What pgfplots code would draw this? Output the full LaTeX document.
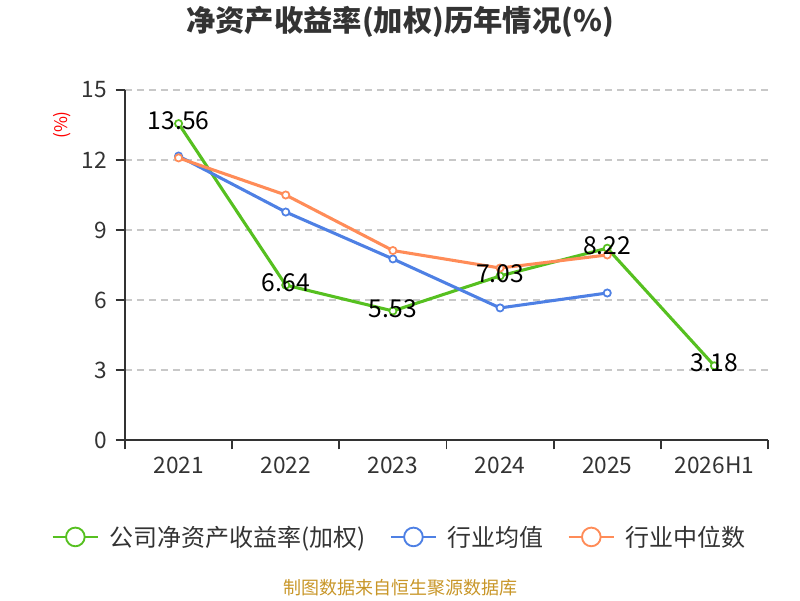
\documentclass[border=0pt]{standalone}
\usepackage{pgfplots}
\pgfplotsset{compat=1.18}
\usepackage{fontspec}
\setmainfont{Noto Sans CJK SC}
\definecolor{cgreen}{RGB}{86,192,32}
\definecolor{cblue}{RGB}{78,128,228}
\definecolor{corange}{RGB}{255,140,88}
\definecolor{ctext}{RGB}{51,51,51}
\definecolor{cgrid}{RGB}{200,200,200}
\definecolor{csrc}{RGB}{200,150,40}
\begin{document}
\begin{tikzpicture}
\path (-93.75pt,-120pt) rectangle (506.25pt,330pt);
\begin{axis}[
  scale only axis,
  width=482.25pt, height=262.5pt,
  xmin=-0.5, xmax=5.5, ymin=0, ymax=15,
  axis x line*=bottom, axis y line*=left,
  axis line style={ctext, line width=1.3pt},
  xtick={0,1,2,3,4,5},
  xticklabels={2021,2022,2023,2024,2025,2026H1},
  minor xtick={-0.5,0.5,1.5,2.5,3.5,4.5,5.5},
  ytick={0,3,6,9,12,15},
  tick align=outside,
  major x tick style={draw=none},
  minor x tick style={ctext, line width=1.3pt},
  minor tick length=7pt,
  major tick length=7pt,
  major y tick style={ctext, line width=1.3pt},
  ymajorgrids,
  grid style={cgrid, dashed, line width=1pt, dash pattern=on 5pt off 4pt},
  /pgf/number format/assume math mode=true,
  tick label style={font=\fontsize{17}{18}\selectfont, text=ctext},
  xticklabel style={yshift=-2.5pt},
  yticklabel style={xshift=-3pt},
  clip=false,
  every axis plot/.append style={line width=2.3pt},
  legend columns=3,
  legend style={at={(axis description cs:0.4277,-0.277)}, anchor=center, draw=none, fill=none,
    font=\fontsize{18}{19}\selectfont, text=ctext, column sep=6pt,
    /tikz/every even column/.append style={column sep=16pt}},
  legend image code/.code={
    \draw[#1, line width=1.4pt] (0pt,0pt) -- (34pt,0pt);
    \draw[#1, line width=1.4pt, fill=white] (17pt,0pt) circle (7pt);
  },
]
\addplot[cgreen, mark=*, mark options={fill=white, line width=1.3pt, scale=1.35}] coordinates {(0,13.56) (1,6.64) (2,5.53) (3,7.03) (4,8.22) (5,3.18)};
\addlegendentry{公司净资产收益率(加权)}
\addplot[cblue, mark=*, mark options={fill=white, line width=1.3pt, scale=1.35}] coordinates {(0,12.17) (1,9.77) (2,7.76) (3,5.66) (4,6.30)};
\addlegendentry{行业均值}
\addplot[corange, mark=*, mark options={fill=white, line width=1.3pt, scale=1.35}] coordinates {(0,12.09) (1,10.50) (2,8.12) (3,7.37) (4,7.93)};
\addlegendentry{行业中位数}
\addplot[only marks, mark=none, nodes near coords, point meta=explicit symbolic,
  every node near coord/.style={anchor=center, yshift=2pt, font=\fontsize{18.5}{19}\selectfont, text=black}]
  coordinates {(0,13.56)[13.56] (1,6.64)[6.64] (2,5.53)[5.53] (3,7.03)[7.03] (4,8.22)[8.22] (5,3.18)[3.18]};
\end{axis}
\node[font=\bfseries\fontsize{22}{24}\selectfont, text=ctext] at (206.25pt,313.5pt) {净资产收益率(加权)历年情况(\%)};
\node[rotate=90, font=\fontsize{13}{14}\selectfont, text=red] at (-47.25pt,236.25pt) {(\%)};
\node[font=\fontsize{13.5}{14}\selectfont, text=csrc] at (206.25pt,-111pt) {制图数据来自恒生聚源数据库};
\end{tikzpicture}
\end{document}
